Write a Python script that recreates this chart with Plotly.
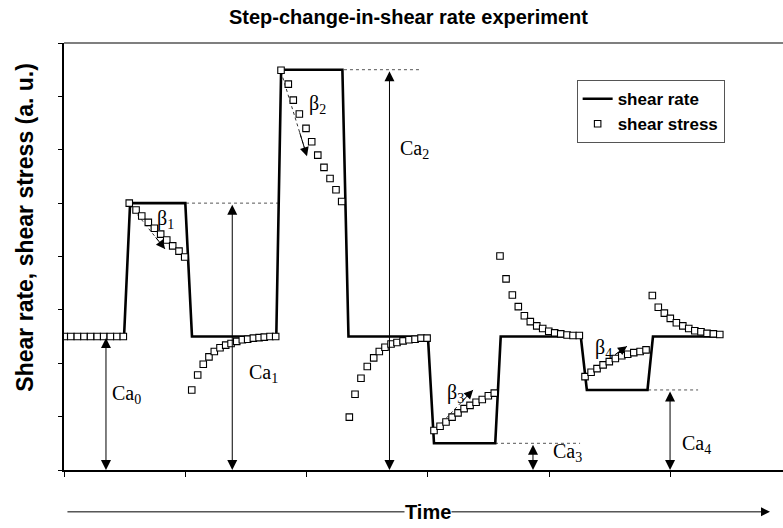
import plotly.graph_objects as go

# ---------------- data ----------------
# shear rate (imposed, stepwise)
rate_t = [0, 4.95, 5.45, 10.0, 10.55, 17.5, 17.9, 22.95, 23.45, 30.0, 30.5,
          35.55, 36.0, 42.6, 43.1, 48.1, 48.55, 54.2]
rate_v = [2.5, 2.5, 5.0, 5.0, 2.5, 2.5, 7.5, 7.5, 2.5, 2.5, 0.5,
          0.5, 2.5, 2.5, 1.5, 1.5, 2.5, 2.5]

# shear stress (response)
stress_t = [0.02, 0.56, 1.10, 1.65, 2.19, 2.74, 3.27, 3.82, 4.36, 4.89,
            5.38, 5.94, 6.41, 6.95, 7.45, 7.97, 8.47, 8.96, 9.48, 9.95,
            10.53, 11.02, 11.48, 11.95, 12.39, 12.86, 13.33, 13.77, 14.24, 14.70,
            15.14, 15.61, 16.08, 16.51, 16.98, 17.45,
            17.89, 18.49, 18.90, 19.40, 19.95, 20.42, 20.92, 21.43, 21.93, 22.42, 22.89,
            23.52, 23.99, 24.48, 25.00, 25.53, 25.99, 26.46, 26.96, 27.45, 27.95,
            28.44, 28.94, 29.43, 29.93,
            30.50, 31.00, 31.49, 31.99, 32.48, 32.98, 33.47, 33.97, 34.48, 34.98, 35.47,
            35.94, 36.44, 36.96, 37.45, 37.95, 38.44, 38.97, 39.46, 39.96, 40.45,
            40.95, 41.47, 41.96, 42.48,
            42.95, 43.45, 43.94, 44.44, 44.95, 45.45, 45.98, 46.47, 46.97, 47.49, 47.98,
            48.50, 48.99, 49.49, 49.98, 50.48, 51.01, 51.50, 52.00, 52.51, 53.01,
            53.53, 54.06]
stress_v = [2.5, 2.5, 2.5, 2.5, 2.5, 2.5, 2.5, 2.5, 2.5, 2.5,
            5.00, 4.87, 4.76, 4.64, 4.53, 4.42, 4.31, 4.20, 4.10, 3.99,
            1.50, 1.78, 1.98, 2.12, 2.22, 2.29, 2.34, 2.37, 2.41, 2.44,
            2.45, 2.47, 2.48, 2.49, 2.50, 2.50,
            7.49, 7.23, 6.93, 6.67, 6.40, 6.15, 5.90, 5.67, 5.46, 5.25, 5.03,
            0.99, 1.42, 1.72, 1.94, 2.10, 2.22, 2.30, 2.36, 2.39, 2.42,
            2.44, 2.45, 2.47, 2.47,
            0.74, 0.82, 0.90, 0.99, 1.07, 1.15, 1.21, 1.27, 1.32, 1.39, 1.44,
            4.01, 3.58, 3.28, 3.06, 2.89, 2.78, 2.70, 2.65, 2.60, 2.57,
            2.55, 2.53, 2.52, 2.52,
            1.75, 1.83, 1.90, 1.97, 2.03, 2.09, 2.14, 2.17, 2.20, 2.22, 2.25,
            3.27, 3.05, 2.94, 2.84, 2.76, 2.70, 2.65, 2.61, 2.59, 2.56,
            2.55, 2.54]

# dotted reference levels
ref_t0 = [10.06, 23.08, 35.53, 48.15]
ref_t1 = [17.80, 29.35, 42.54, 52.27]
ref_v = [5.0, 7.5, 0.5, 1.5]

# Ca double arrows (from level down to zero)
ca_t = [3.46, 13.87, 26.83, 38.66, 49.96]
ca_level = [2.5, 5.0, 7.5, 0.5, 1.5]
ca_labels = ["Ca<sub>0</sub>", "Ca<sub>1</sub>", "Ca<sub>2</sub>", "Ca<sub>3</sub>", "Ca<sub>4</sub>"]
ca_label_t = [3.79, 15.09, 27.53, 40.15, 50.78]
ca_label_v = [1.42, 1.80, 6.00, 0.32, 0.47]

# beta slope arrows
beta_tail_t = [5.44, 17.89, 30.50, 42.70]
beta_tail_v = [4.96, 7.46, 0.73, 1.72]
beta_tip_t = [8.33, 20.03, 33.72, 46.41]
beta_tip_v = [4.14, 5.88, 1.50, 2.32]
beta_labels = ["β<sub>1</sub>", "β<sub>2</sub>", "β<sub>3</sub>", "β<sub>4</sub>"]
beta_label_t = [7.50, 20.03, 31.41, 43.61]
beta_label_v = [4.70, 6.84, 1.44, 2.27]

SERIF = "Liberation Serif"
SANS = "Liberation Sans"

fig = go.Figure()

# dotted reference lines
for t0, t1, v in zip(ref_t0, ref_t1, ref_v):
    fig.add_trace(go.Scatter(x=[t0, t1], y=[v, v], mode="lines",
                             line=dict(color="#555555", width=1, dash="dot"),
                             showlegend=False, hoverinfo="skip"))
# beta dotted lines
for a, b, c, d in zip(beta_tail_t, beta_tail_v, beta_tip_t, beta_tip_v):
    fig.add_trace(go.Scatter(x=[a, c], y=[b, d], mode="lines",
                             line=dict(color="#333333", width=1, dash="dot"),
                             showlegend=False, hoverinfo="skip"))

fig.add_trace(go.Scatter(x=rate_t, y=rate_v, mode="lines", name="shear rate",
                         line=dict(color="black", width=2.6)))
fig.add_trace(go.Scatter(x=stress_t, y=stress_v, mode="markers", name="shear stress",
                         marker=dict(symbol="square", size=6.5, color="white",
                                     line=dict(color="black", width=1.1))))

ann = []
# Ca arrows
for t, lv in zip(ca_t, ca_level):
    ann.append(dict(x=t, y=0, ax=t, ay=lv, xref="x", yref="y", axref="x", ayref="y",
                    text="", showarrow=True, arrowhead=2, arrowside="end+start",
                    arrowsize=2, arrowwidth=1, arrowcolor="black",
                    standoff=0, startstandoff=0))
for txt, t, v in zip(ca_labels, ca_label_t, ca_label_v):
    ann.append(dict(x=t, y=v, xref="x", yref="y", text=txt, showarrow=False,
                    xanchor="left", yanchor="middle",
                    font=dict(family=SERIF, size=20, color="black")))
# beta arrow heads
for a, b, c, d in zip(beta_tail_t, beta_tail_v, beta_tip_t, beta_tip_v):
    ann.append(dict(x=c, y=d, ax=c - 0.3 * (c - a), ay=d - 0.3 * (d - b),
                    xref="x", yref="y", axref="x", ayref="y", text="",
                    showarrow=True, arrowhead=2, arrowsize=1.8, arrowwidth=1,
                    arrowcolor="black", standoff=0))
for txt, t, v in zip(beta_labels, beta_label_t, beta_label_v):
    ann.append(dict(x=t, y=v, xref="x", yref="y", text=txt, showarrow=False,
                    xanchor="left", yanchor="middle",
                    font=dict(family=SERIF, size=20, color="black")))

# Time arrow below axis
ann.append(dict(x=58.2, y=-0.098, ax=0.16, ay=0, xref="x", yref="paper",
                axref="x", ayref="pixel", text="", showarrow=True,
                arrowhead=2, arrowsize=1.8, arrowwidth=1, arrowcolor="black"))
ann.append(dict(x=30.0, y=-0.098, xref="x", yref="paper", text="Time",
                showarrow=False, bgcolor="white", borderpad=0,
                xanchor="center", yanchor="middle",
                font=dict(family=SANS, size=20, color="black", weight="bold")))
# y-axis title
ann.append(dict(x=-0.054, y=0.568, xref="paper", yref="paper",
                text="Shear rate, shear stress (a. u.)", textangle=-90,
                showarrow=False, xanchor="center", yanchor="middle",
                font=dict(family=SANS, size=23, color="black", weight="bold")))

fig.update_layout(
    width=783, height=528,
    margin=dict(l=64, r=0, t=43, b=58),
    paper_bgcolor="white", plot_bgcolor="white",
    title=dict(text="Step-change-in-shear rate experiment", x=0.5217, xanchor="center",
               y=0.968, yanchor="middle",
               font=dict(family=SANS, size=20, color="black", weight="bold")),
    xaxis=dict(range=[0, 59.27], tick0=0, dtick=10, showticklabels=False,
               showgrid=False, zeroline=False, showline=True, linecolor="black",
               linewidth=1.5, ticks="outside", ticklen=5, tickcolor="black",
               tickwidth=1),
    yaxis=dict(range=[0, 8], tick0=0, dtick=1, showticklabels=False,
               showgrid=False, zeroline=False, showline=True, linecolor="black",
               linewidth=1.5, ticks="outside", ticklen=4, tickcolor="black",
               tickwidth=1),
    legend=dict(x=0.713, y=0.913, xanchor="left", yanchor="top",
                bgcolor="white", bordercolor="#555555", borderwidth=1,
                font=dict(family=SANS, size=17, color="black", weight="bold")),
    shapes=[dict(type="line", xref="paper", yref="paper", x0=0, x1=1, y0=1, y1=1,
                 line=dict(color="black", width=1.2))],
    annotations=ann,
)

fig.write_html("out.html")
